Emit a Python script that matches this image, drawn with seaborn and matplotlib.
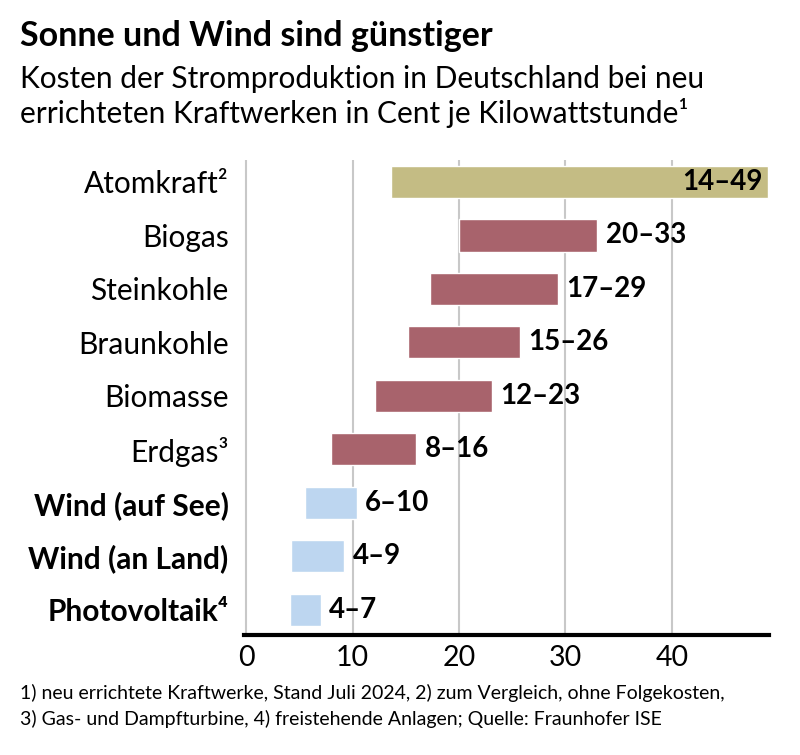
import matplotlib
matplotlib.use('Agg')
import matplotlib.pyplot as plt
import seaborn as sns
import pandas as pd

# data (cent per kWh, low and high end of range)
labels = ['Atomkraft²', 'Biogas', 'Steinkohle', 'Braunkohle', 'Biomasse',
          'Erdgas³', 'Wind (auf See)', 'Wind (an Land)', 'Photovoltaik⁴']
low = [13.6, 20.0, 17.3, 15.2, 12.1, 8.0, 5.5, 4.2, 4.1]
high = [49.0, 33.0, 29.3, 25.7, 23.1, 16.0, 10.4, 9.2, 7.0]
range_text = ['14–49', '20–33', '17–29', '15–26', '12–23', '8–16', '6–10', '4–9', '4–7']
group = ['atom', 'fossil', 'fossil', 'fossil', 'fossil', 'fossil', 'renew', 'renew', 'renew']
bold_labels = ['Wind (auf See)', 'Wind (an Land)', 'Photovoltaik⁴']

colors = {'atom': '#C4BC84', 'fossil': '#A8636C', 'renew': '#BDD6F0'}

df = pd.DataFrame({'label': labels, 'width': [h - l for h, l in zip(high, low)], 'group': group})

sns.set_style('white')
plt.rcParams['font.family'] = ['Lato', 'DejaVu Sans']
plt.rcParams['text.color'] = 'black'

fig = plt.figure(figsize=(8, 7.55), dpi=100)
ax = fig.add_axes([0.305, 0.159, 0.656, 0.629])

sns.barplot(data=df, x='width', y='label', hue='group', palette=colors, saturation=1,
            dodge=False, legend=False, width=0.6, orient='h', ax=ax)

# move each bar so it starts at the low end of its range
for bar in ax.patches:
    idx = int(round(bar.get_y() + bar.get_height() / 2))
    bar.set_x(low[idx])

# range labels
for i, txt in enumerate(range_text):
    if i == 0:
        ax.text(high[i] - 0.5, i, txt, ha='right', va='center', fontsize=20, fontweight='bold')
    else:
        ax.text(high[i] + 0.8, i, txt, ha='left', va='center', fontsize=20, fontweight='bold')

ax.set_xlim(-0.2, 49.1)
ax.set_ylim(8.47, -0.41)
ax.set_xticks([0, 10, 20, 30, 40])
ax.xaxis.grid(True, color='#C8C8C8', linewidth=1.5)
ax.set_axisbelow(True)
for s in ['top', 'right', 'left']:
    ax.spines[s].set_visible(False)
ax.spines['bottom'].set_color('black')
ax.spines['bottom'].set_linewidth(3)
ax.tick_params(axis='both', length=0, colors='black')
ax.tick_params(axis='y', pad=11, labelsize=21.5)
ax.tick_params(axis='x', pad=7, labelsize=20.5)
ax.set_xlabel('')
ax.set_ylabel('')
for t in ax.get_yticklabels():
    if t.get_text() in bold_labels:
        t.set_fontweight('bold')

fig.text(0.025, 0.952, 'Sonne und Wind sind günstiger', fontsize=24.5, fontweight='bold', va='center')
fig.text(0.025, 0.896, 'Kosten der Stromproduktion in Deutschland bei neu', fontsize=21.5, va='center')
fig.text(0.025, 0.850, 'errichteten Kraftwerken in Cent je Kilowattstunde¹', fontsize=21.5, va='center')
fig.text(0.025, 0.082, '1) neu errichtete Kraftwerke, Stand Juli 2024, 2) zum Vergleich, ohne Folgekosten,',
         fontsize=14, va='center')
fig.text(0.025, 0.048, '3) Gas- und Dampfturbine, 4) freistehende Anlagen; Quelle: Fraunhofer ISE',
         fontsize=14, va='center')

fig.savefig('out.png', dpi=100)
